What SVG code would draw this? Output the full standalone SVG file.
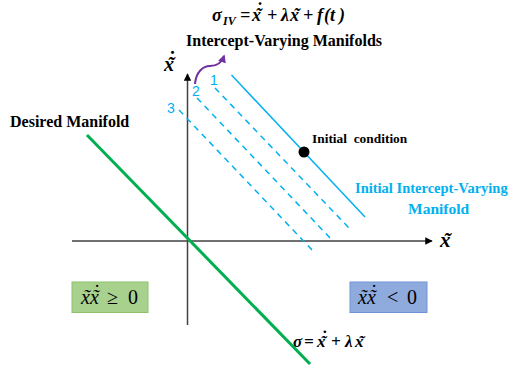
<svg xmlns="http://www.w3.org/2000/svg" width="525" height="377" viewBox="0 0 525 377">
<defs>
<style>
.ax{stroke:#404040;stroke-width:1.5;fill:none}
.blue{stroke:#00B0F0;stroke-width:1.5;fill:none}
.dash{stroke:#00B0F0;stroke-width:1.5;fill:none;stroke-dasharray:6 5}
.green{stroke:#00B050;stroke-width:3;fill:none}
text{font-family:"Liberation Serif",serif}
.b{font-weight:bold;fill:#000}
.m{font-style:italic;font-weight:bold;fill:#000}
.mr{font-style:italic;fill:#000}
.up{font-style:normal}
.num{font-family:"Liberation Sans",sans-serif;font-size:14px;fill:#00B0F0}
</style>
<marker id="ah" viewBox="0 0 10 10" refX="9" refY="5" markerWidth="5" markerHeight="5" orient="auto" markerUnits="strokeWidth">
<path d="M0,0 L10,5 L0,10 z" fill="#000"/>
</marker>
<marker id="ahp" viewBox="0 0 10 10" refX="8" refY="5" markerWidth="4" markerHeight="4" orient="auto" markerUnits="strokeWidth">
<path d="M0,0 L10,5 L0,10 z" fill="#7030A0"/>
</marker>
</defs>

<g id="connectors">
<line id="x-axis" class="ax" x1="72" y1="241" x2="432" y2="241" marker-end="url(#ah)"/>
<line id="y-axis" class="ax" x1="187.5" y1="325" x2="187.5" y2="74" marker-end="url(#ah)"/>
<line id="desired-manifold" class="green" x1="87" y1="135" x2="310" y2="364"/>
<line id="initial-manifold" class="blue" x1="231.5" y1="75" x2="365" y2="217"/>
<line id="manifold-1" class="dash" x1="215" y1="88" x2="350" y2="229"/>
<line id="manifold-2" class="dash" x1="197" y1="98" x2="332" y2="240"/>
<line id="manifold-3" class="dash" x1="179" y1="110" x2="314" y2="252"/>
<path id="purple-arrow" d="M195,84 C196,72 203,66 210,66 C218,66 222,62 224,56" stroke="#7030A0" stroke-width="2" fill="none" marker-end="url(#ahp)"/>
</g>

<g id="title">
<text class="m" font-size="18" y="21"><tspan x="212">σ</tspan><tspan x="223" y="25" font-size="12">IV</tspan><tspan x="240" y="21">=</tspan><tspan x="252">x</tspan><tspan x="255.5" y="21">˜</tspan><tspan x="256" y="16">˙</tspan><tspan x="267" y="21">+</tspan><tspan x="281">λ</tspan><tspan x="290">x</tspan><tspan x="293.5">˜</tspan><tspan x="303">+</tspan><tspan x="317">f</tspan><tspan x="324">(</tspan><tspan x="330">t</tspan><tspan x="339">)</tspan></text>
<text class="b" x="284" y="46" font-size="16" text-anchor="middle">Intercept-Varying Manifolds</text>
</g>

<g id="axis-labels">
<text class="m" font-size="20" y="71"><tspan x="164">x</tspan><tspan x="167.5">˜</tspan><tspan x="168" y="65.5">˙</tspan></text>
<text class="m" font-size="21" y="247"><tspan x="440">x</tspan><tspan x="443.5">˜</tspan></text>
</g>

<g id="numbers">
<text class="num" x="210" y="85">1</text>
<text class="num" x="192" y="96">2</text>
<text class="num" x="167" y="113">3</text>
</g>

<g id="desired-label">
<text class="b" x="10" y="127" font-size="16">Desired Manifold</text>
</g>

<g id="initial-condition">
<circle cx="304" cy="152" r="5.5" fill="#000"/>
<text class="b" x="312" y="143" font-size="13.4" xml:space="preserve">Initial  condition</text>
</g>

<g id="initial-manifold-label">
<text class="b" x="355" y="193" font-size="14.5" style="fill:#00B0F0">Initial Intercept-Varying</text>
<text class="b" x="408" y="214" font-size="15.5" style="fill:#00B0F0">Manifold</text>
</g>

<g id="region-positive">
<rect x="72" y="282" width="76" height="30.5" fill="#A9D18E" stroke="#8CC168" stroke-width="1"/>
<text class="mr" font-size="20" y="304"><tspan x="81">x</tspan><tspan x="83">˜</tspan><tspan x="90" y="304">x</tspan><tspan x="92">˜</tspan><tspan x="92.5" y="298.5">˙</tspan><tspan class="up" x="107" y="304">≥</tspan><tspan class="up" x="128">0</tspan></text>
</g>

<g id="region-negative">
<rect x="350" y="282" width="77" height="30.5" fill="#8FAADC" stroke="#6F93D6" stroke-width="1"/>
<text class="mr" font-size="20" y="304"><tspan x="358">x</tspan><tspan x="360">˜</tspan><tspan x="367" y="304">x</tspan><tspan x="369">˜</tspan><tspan x="369.5" y="298.5">˙</tspan><tspan class="up" x="387" y="304">&lt;</tspan><tspan class="up" x="407">0</tspan></text>
</g>

<g id="sigma-label">
<text class="m" font-size="17" y="347"><tspan x="293">σ</tspan><tspan x="304">=</tspan><tspan x="317">x</tspan><tspan x="320.5">˜</tspan><tspan x="321" y="342">˙</tspan><tspan x="331" y="347">+</tspan><tspan x="345">λ</tspan><tspan x="355">x</tspan><tspan x="358.5">˜</tspan></text>
</g>
</svg>
